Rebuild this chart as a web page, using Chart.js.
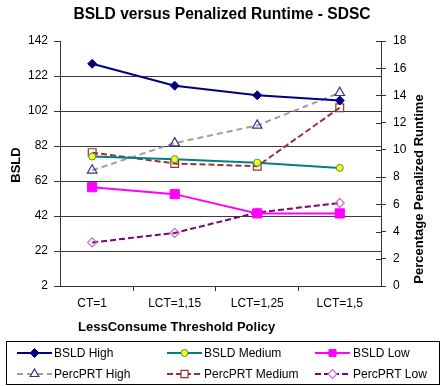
<!DOCTYPE html>
<html>
<head>
<meta charset="utf-8">
<script src="https://cdn.jsdelivr.net/npm/chart.js@4/dist/chart.umd.min.js"></script>
<style>
  html, body { margin: 0; padding: 0; background: #fff; }
  #wrap { width: 444px; height: 386px; position: relative; }
</style>
</head>
<body>
<div id="wrap"><canvas id="c" width="444" height="386"></canvas></div>
<script>
// Policies on the horizontal axis
const categories = ['CT=1', 'LCT=1,15', 'LCT=1,25', 'LCT=1,5'];

// BSLD (left axis)
const bsldHigh   = [129, 116.5, 111, 108];
const bsldMedium = [76, 74.5, 72.5, 69.5];
const bsldLow    = [58.5, 54.5, 43.5, 43.5];

// Percentage of penalized runtime (right axis)
const percHigh   = [8.5, 10.5, 11.8, 14.2];
const percMedium = [9.8, 9.0, 8.8, 13.1];
const percLow    = [3.2, 3.9, 5.4, 6.1];

// Tick labels
const bsldTicks = [2, 22, 42, 62, 82, 102, 122, 142];
const percTicks = [0, 2, 4, 6, 8, 10, 12, 14, 16, 18];

const FONT = "'Liberation Sans', Arial, sans-serif";

const toPoints = arr => arr.map((v, i) => ({ x: i, y: v }));

const datasets = [
  { label: 'BSLD High', data: toPoints(bsldHigh), yAxisID: 'y',
    borderColor: '#000080', borderWidth: 2, pointStyle: 'rectRot', pointRadius: 4.5,
    pointBackgroundColor: '#000080', pointBorderColor: '#000080', pointBorderWidth: 1 },
  { label: 'BSLD Medium', data: toPoints(bsldMedium), yAxisID: 'y',
    borderColor: '#008080', borderWidth: 2, pointStyle: 'circle', pointRadius: 3.5,
    pointBackgroundColor: '#ffff00', pointBorderColor: '#339966', pointBorderWidth: 1 },
  { label: 'BSLD Low', data: toPoints(bsldLow), yAxisID: 'y',
    borderColor: '#ff00ff', borderWidth: 2, pointStyle: 'rect', pointRadius: 6.5,
    pointBackgroundColor: '#ff00ff', pointBorderColor: '#ff00ff', pointBorderWidth: 1 },
  { label: 'PercPRT High', data: toPoints(percHigh), yAxisID: 'y1',
    borderColor: '#a0a0a0', borderWidth: 2, borderDash: [6, 4], pointStyle: 'triangle', pointRadius: 5.5,
    pointBackgroundColor: 'rgba(255,255,255,0)', pointBorderColor: '#333399', pointBorderWidth: 1.2 },
  { label: 'PercPRT Medium', data: toPoints(percMedium), yAxisID: 'y1',
    borderColor: '#993333', borderWidth: 2, borderDash: [6, 3], pointStyle: 'rect', pointRadius: 5.5,
    pointBackgroundColor: 'rgba(255,255,255,0)', pointBorderColor: '#993333', pointBorderWidth: 1.2 },
  { label: 'PercPRT Low', data: toPoints(percLow), yAxisID: 'y1',
    borderColor: '#800080', borderWidth: 2, borderDash: [6, 3], pointStyle: 'rectRot', pointRadius: 4.5,
    pointBackgroundColor: 'rgba(255,255,255,0)', pointBorderColor: '#cc66cc', pointBorderWidth: 1.2 }
];
datasets.forEach(d => { d.tension = 0; d.fill = false; });

// Axis titles, inner ticks of the right axis, and a boxed legend
const decorations = {
  id: 'decorations',
  afterDatasetsDraw(chart) {
    const ctx = chart.ctx;
    const y1 = chart.scales.y1;
    // right axis ticks cross the axis line
    ctx.save();
    ctx.strokeStyle = '#333';
    ctx.lineWidth = 1;
    percTicks.forEach(v => {
      const py = Math.round(y1.getPixelForValue(v)) + 0.5;
      ctx.beginPath();
      ctx.moveTo(y1.left - 5, py);
      ctx.lineTo(y1.left, py);
      ctx.stroke();
    });
    ctx.restore();
  },
  afterDraw(chart) {
    const ctx = chart.ctx;
    ctx.save();
    ctx.fillStyle = '#000';
    ctx.font = 'bold 13px ' + FONT;
    ctx.textAlign = 'center';
    ctx.textBaseline = 'middle';
    // left axis title
    ctx.save();
    ctx.translate(16, 165);
    ctx.rotate(-Math.PI / 2);
    ctx.fillText('BSLD', 0, 0);
    ctx.restore();
    // right axis title
    ctx.save();
    ctx.translate(419, 189);
    ctx.rotate(-Math.PI / 2);
    ctx.fillText('Percentage Penalized Runtime', 0, 0);
    ctx.restore();
    // x axis title
    ctx.textAlign = 'left';
    ctx.fillText('LessConsume Threshold Policy', 78, 327);

    // legend box
    ctx.strokeStyle = '#000';
    ctx.lineWidth = 1;
    ctx.strokeRect(6.5, 341.5, 433, 43);
    const cols = [{ x0: 17, tx: 54 }, { x0: 167, tx: 204 }, { x0: 315, tx: 353 }];
    const rows = [353, 374];
    ctx.font = '12px ' + FONT;
    ctx.textBaseline = 'middle';
    chart.data.datasets.forEach((ds, i) => {
      const c = cols[i % 3];
      const ry = rows[Math.floor(i / 3)];
      ctx.save();
      ctx.strokeStyle = ds.borderColor;
      ctx.lineWidth = ds.borderWidth;
      ctx.setLineDash(ds.borderDash || []);
      ctx.beginPath();
      ctx.moveTo(c.x0, ry);
      ctx.lineTo(c.x0 + 35, ry);
      ctx.stroke();
      ctx.setLineDash([]);
      ctx.fillStyle = ds.pointBackgroundColor === 'rgba(255,255,255,0)' ? '#fff' : ds.pointBackgroundColor;
      ctx.strokeStyle = ds.pointBorderColor;
      ctx.lineWidth = ds.pointBorderWidth;
      Chart.helpers.drawPoint(ctx, { pointStyle: ds.pointStyle, radius: Math.min(ds.pointRadius, 5), rotation: 0, borderWidth: ds.pointBorderWidth }, c.x0 + 17.5, ry);
      ctx.restore();
      ctx.fillStyle = '#000';
      ctx.fillText(ds.label, c.tx, ry + 0.5);
    });
    ctx.restore();
  }
};

new Chart(document.getElementById('c'), {
  type: 'line',
  data: { datasets },
  plugins: [decorations],
  options: {
    responsive: false,
    animation: false,
    events: [],
    layout: { padding: 0 },
    plugins: {
      legend: { display: false },
      tooltip: { enabled: false },
      title: {
        display: true,
        text: 'BSLD versus Penalized Runtime - SDSC',
        color: '#000',
        font: { family: FONT, size: 15.6, weight: 'bold' },
        padding: { top: 5, bottom: 17.3 }
      }
    },
    scales: {
      x: {
        type: 'linear',
        min: -0.39,
        max: 3.5,
        afterBuildTicks: s => { s.ticks = [0, 0.5, 1, 1.5, 2, 2.5, 3].map(v => ({ value: v })); },
        afterFit: s => { s.height = 100; },
        ticks: {
          autoSkip: false, maxRotation: 0, minRotation: 0, padding: 5,
          color: '#000', font: { family: FONT, size: 12 },
          callback: v => (Number.isInteger(v) ? categories[v] : '')
        },
        grid: {
          drawOnChartArea: false, drawTicks: true, tickLength: 5,
          tickColor: c => (c.tick && !Number.isInteger(c.tick.value) ? '#333' : 'rgba(0,0,0,0)')
        },
        border: { display: true, color: '#333', width: 1 }
      },
      y: {
        position: 'left',
        min: 2,
        max: 142,
        afterBuildTicks: s => { s.ticks = bsldTicks.map(v => ({ value: v })); },
        afterFit: s => { s.width = 60; },
        ticks: { color: '#000', font: { family: FONT, size: 12 }, padding: 6 },
        grid: {
          drawTicks: true, tickLength: 6, tickColor: '#333', lineWidth: 1,
          color: c => (c.tick && (c.tick.value === 142 || c.tick.value === 2) ? 'rgba(0,0,0,0)' : '#3a3a3a')
        },
        border: { display: true, color: '#333', width: 1 }
      },
      y1: {
        position: 'right',
        min: 0,
        max: 18,
        afterBuildTicks: s => { s.ticks = percTicks.map(v => ({ value: v })); },
        afterFit: s => { s.width = 63; },
        ticks: { color: '#000', font: { family: FONT, size: 12 }, padding: 7 },
        grid: { drawOnChartArea: false, drawTicks: true, tickLength: 5, tickColor: '#333' },
        border: { display: true, color: '#333', width: 1 }
      }
    }
  }
});
</script>
</body>
</html>
